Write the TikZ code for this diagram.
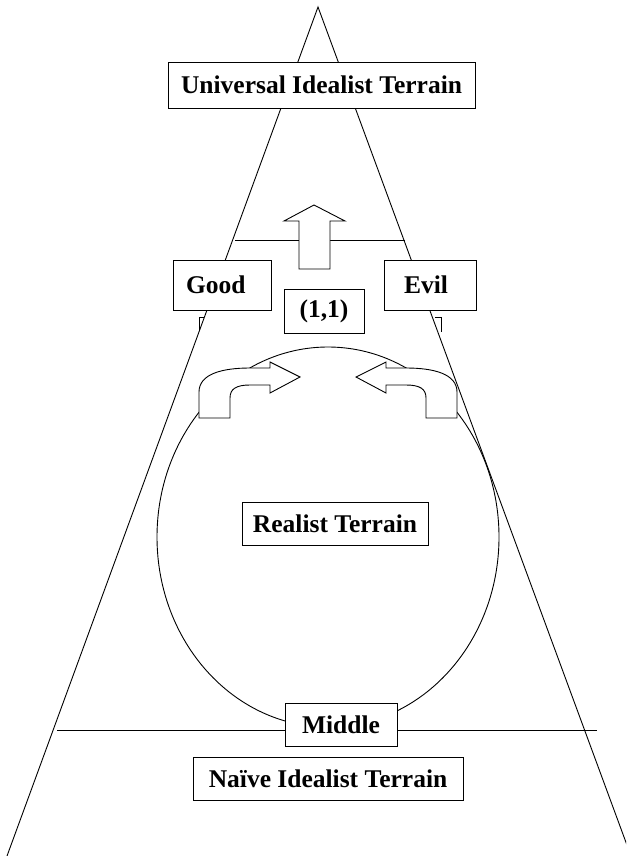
\documentclass[tikz,border=0pt]{standalone}
\usepackage{fontspec}
\setmainfont{Liberation Serif}
\begin{document}
\begin{tikzpicture}[x=1pt,y=-1pt, line width=0.9pt,
  box/.style={draw, fill=white, inner sep=0pt, font=\fontsize{25.5}{30}\selectfont\bfseries},
  blockarrow/.style={draw, fill=white, line join=miter}]
\useasboundingbox (0,0) rectangle (626,856);

% the large triangle of terrains
\begin{scope}
  \clip (0,0) rectangle (626,856);
  \draw (7,856) -- (318,7) -- (631,856);
\end{scope}

% cross lines
\draw (235,240) -- (405,240);
\draw (57,730) -- (597,730);

% small corner marks beside the side lines
\draw (204,317) -- (199,317) -- (199,331);
\draw (435,317) -- (441,317) -- (441,332);

% realist ellipse
\draw (328,537) ellipse [x radius=171, y radius=190];

% upward block arrow
\draw[blockarrow] (299,269) -- (299,221) -- (284,221) -- (314,205) -- (345,221)
  -- (330,221) -- (330,269) -- cycle;

% bent arrows pointing inward
\draw[blockarrow] (199,418) -- (199,392) .. controls (199,374) and (222,368) .. (250,368)
  -- (270,368) -- (270,362) -- (300,377) -- (270,393) -- (270,385) -- (250,385)
  .. controls (236,385) and (230,389) .. (230,398) -- (230,418) -- cycle;
\draw[blockarrow] (457,418) -- (457,392) .. controls (457,374) and (434,368) .. (406,368)
  -- (386,368) -- (386,362) -- (356,377) -- (386,393) -- (386,385) -- (406,385)
  .. controls (420,385) and (426,389) .. (426,398) -- (426,418) -- cycle;

% labelled boxes
\node[box, minimum width=307pt, minimum height=46pt] (uit) at (321.5,85) {Universal Idealist Terrain};
\node[box, minimum width=98pt, minimum height=50pt, text width=72pt, align=left, inner xsep=13pt] (good) at (222,285) {Good};
\node[box, minimum width=92pt, minimum height=50pt, text width=52pt, align=left, inner xsep=20pt] (evil) at (430,285) {Evil};
\node[box, minimum width=80pt, minimum height=44pt] (one) at (324,311) {(1,1)};
\node[box, minimum width=186pt, minimum height=43pt] (real) at (335,523.5) {Realist Terrain};
\node[box, minimum width=112pt, minimum height=43pt] (mid) at (341,724.5) {Middle};
\node[box, minimum width=270pt, minimum height=43pt] (naive) at (328,778.5) {Naïve Idealist Terrain};
\end{tikzpicture}
\end{document}
